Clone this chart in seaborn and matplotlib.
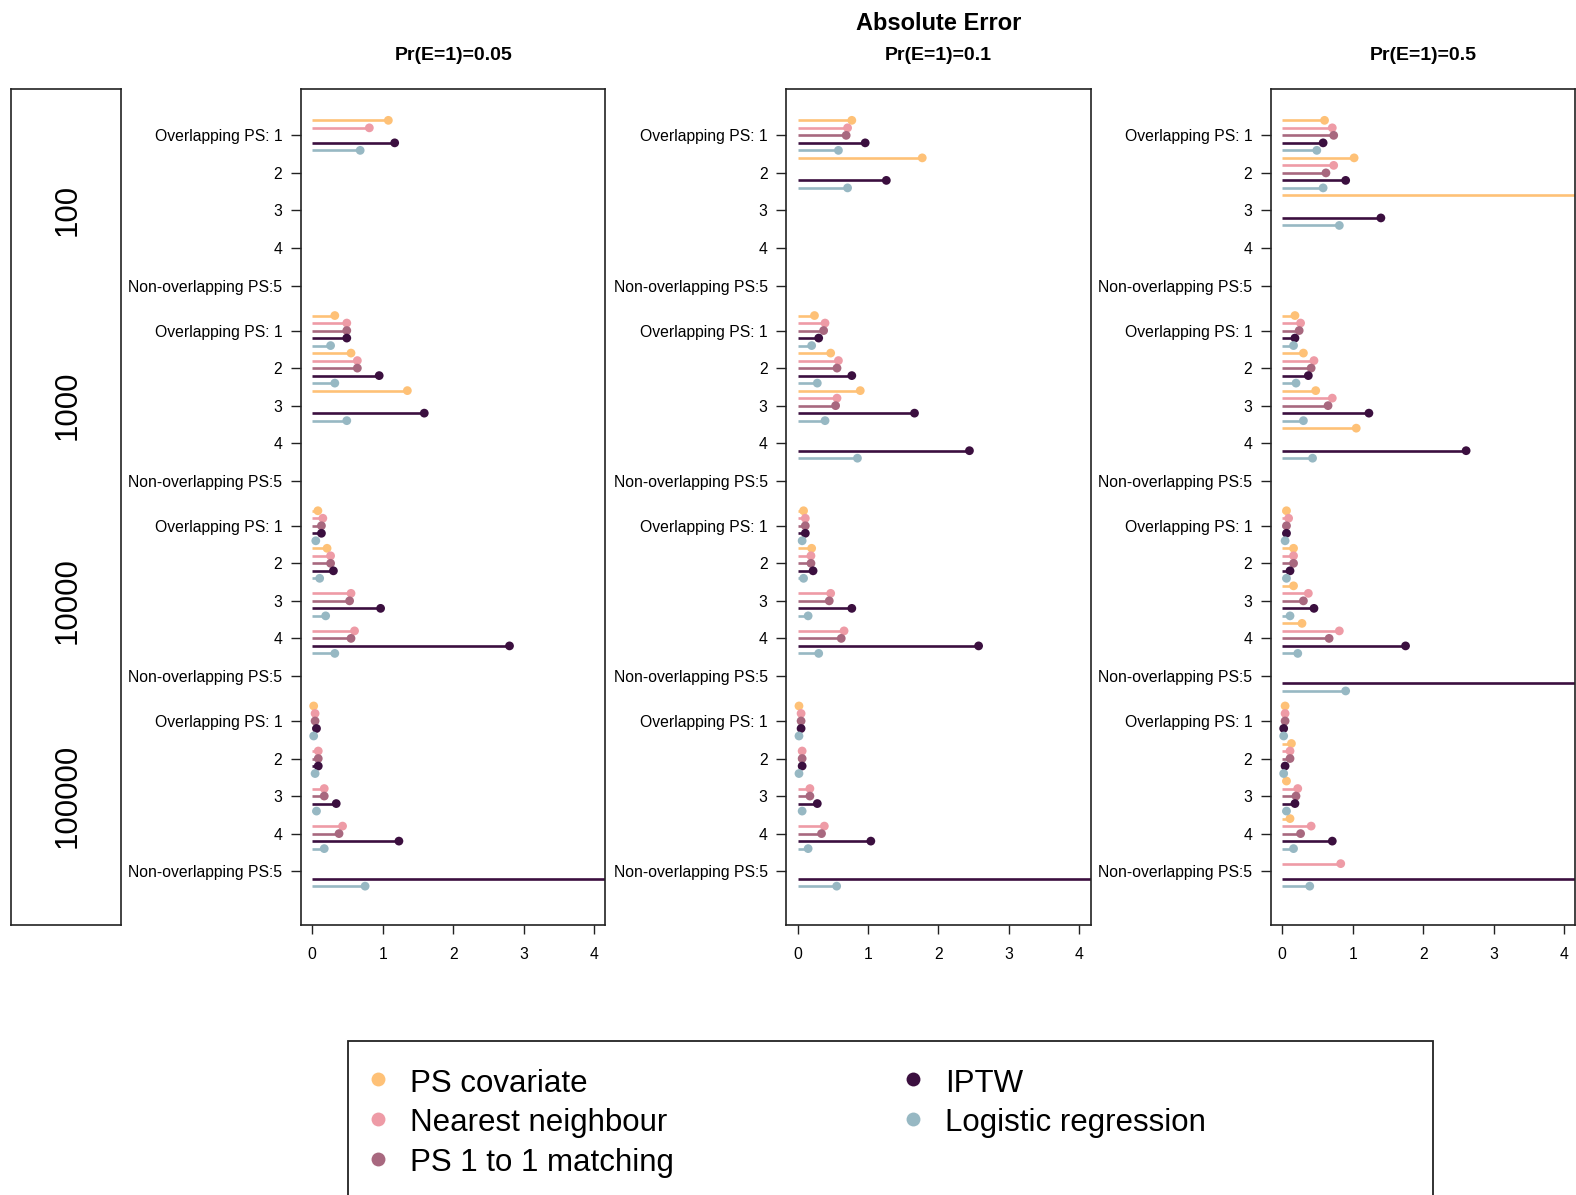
import numpy as np
import pandas as pd
import matplotlib
matplotlib.use("Agg")
import matplotlib.pyplot as plt
from matplotlib.patches import Rectangle
from matplotlib.lines import Line2D
import seaborn as sns

nan = np.nan

# ---------------- data ----------------
panels = ["Pr(E=1)=0.05", "Pr(E=1)=0.1", "Pr(E=1)=0.5"]
sample_sizes = ["100", "1000", "10000", "100000"]
overlap_labels = ["Overlapping PS: 1", "2", "3", "4", "Non-overlapping PS:5"]
methods = ["PS covariate", "Nearest neighbour", "PS 1 to 1 matching", "IPTW", "Logistic regression"]
colors = ["#FEC177", "#EE9BA6", "#A8687F", "#3B0F3F", "#97B8C3"]

# values ordered: n=100 (overlap 1..5), n=1000 (1..5), n=10000 (1..5), n=100000 (1..5)
# Pr(E=1)=0.05
ps_cov_005 = [1.08, nan, nan, nan, nan, 0.32, 0.55, 1.35, nan, nan, 0.08, 0.21, nan, nan, nan, 0.02, nan, nan, nan, nan]
nn_005     = [0.81, nan, nan, nan, nan, 0.49, 0.64, nan, nan, nan, 0.15, 0.26, 0.55, 0.60, nan, 0.04, 0.085, 0.17, 0.43, nan]
ps11_005   = [nan, nan, nan, nan, nan, 0.49, 0.64, nan, nan, nan, 0.13, 0.26, 0.53, 0.55, nan, 0.04, 0.085, 0.17, 0.38, nan]
iptw_005   = [1.17, nan, nan, nan, nan, 0.49, 0.95, 1.59, nan, nan, 0.13, 0.30, 0.97, 2.80, nan, 0.06, 0.085, 0.34, 1.23, 5.0]
lr_005     = [0.68, nan, nan, nan, nan, 0.26, 0.32, 0.49, nan, nan, 0.05, 0.105, 0.19, 0.32, nan, 0.02, 0.04, 0.06, 0.17, 0.75]
# Pr(E=1)=0.1
ps_cov_01 = [0.77, 1.77, nan, nan, nan, 0.24, 0.47, 0.89, nan, nan, 0.085, 0.20, nan, nan, nan, 0.02, nan, nan, nan, nan]
nn_01     = [0.71, nan, nan, nan, nan, 0.39, 0.58, 0.56, nan, nan, 0.11, 0.19, 0.47, 0.66, nan, 0.05, 0.065, 0.175, 0.38, nan]
ps11_01   = [0.69, nan, nan, nan, nan, 0.37, 0.56, 0.54, nan, nan, 0.11, 0.19, 0.45, 0.62, nan, 0.05, 0.065, 0.175, 0.34, nan]
iptw_01   = [0.96, 1.26, nan, nan, nan, 0.30, 0.77, 1.66, 2.44, nan, 0.11, 0.22, 0.77, 2.57, nan, 0.05, 0.065, 0.28, 1.04, 5.0]
lr_01     = [0.58, 0.71, nan, nan, nan, 0.20, 0.28, 0.39, 0.85, nan, 0.065, 0.085, 0.15, 0.30, nan, 0.02, 0.02, 0.065, 0.15, 0.555]
# Pr(E=1)=0.5
ps_cov_05 = [0.60, 1.02, 5.0, nan, nan, 0.18, 0.30, 0.475, 1.05, nan, 0.06, 0.16, 0.16, 0.28, nan, 0.04, 0.13, 0.06, 0.11, nan]
nn_05     = [0.71, 0.73, nan, nan, nan, 0.26, 0.45, 0.71, nan, nan, 0.09, 0.16, 0.37, 0.81, nan, 0.04, 0.11, 0.22, 0.41, 0.83]
ps11_05   = [0.73, 0.62, nan, nan, nan, 0.24, 0.41, 0.65, nan, nan, 0.06, 0.16, 0.30, 0.665, nan, 0.04, 0.11, 0.195, 0.26, nan]
iptw_05   = [0.58, 0.90, 1.40, nan, nan, 0.18, 0.37, 1.23, 2.61, nan, 0.06, 0.11, 0.45, 1.75, 5.0, 0.02, 0.04, 0.18, 0.71, 5.0]
lr_05     = [0.49, 0.58, 0.81, nan, nan, 0.16, 0.195, 0.30, 0.43, nan, 0.04, 0.06, 0.11, 0.22, 0.90, 0.02, 0.02, 0.06, 0.16, 0.39]

panel_series = [
    [ps_cov_005, nn_005, ps11_005, iptw_005, lr_005],
    [ps_cov_01, nn_01, ps11_01, iptw_01, lr_01],
    [ps_cov_05, nn_05, ps11_05, iptw_05, lr_05],
]

# ---------------- long table ----------------
recs = []
for p, series in zip(panels, panel_series):
    for m_i, (meth, vals) in enumerate(zip(methods, series)):
        for k, v in enumerate(vals):
            g, lev = divmod(k, 5)
            recs.append(dict(panel=p, method=meth, size=sample_sizes[g], level=lev,
                             row=g * 26 + lev * 5 + m_i, value=v))
df = pd.DataFrame(recs)
palette = dict(zip(methods, colors))

# ---------------- figure ----------------
sns.set_style("white")
plt.rcParams["font.family"] = ["Liberation Sans", "DejaVu Sans"]
plt.rcParams["text.color"] = "black"
plt.rcParams["xtick.labelcolor"] = "black"
plt.rcParams["ytick.labelcolor"] = "black"

W, H = 1576, 1195
fig = plt.figure(figsize=(W / 100, H / 100), dpi=100)

def fx(px):
    return px / W

def fy(py):
    return 1 - py / H

top_px, bot_px = 89.4, 924.6
ax_h = (bot_px - top_px) / H
ax_w = 304.3 / W
lefts = [301.0, 786.3, 1271.0]
n_rows = 104
ylim = (n_rows - 1 + 0.04 * (n_rows - 1), -0.04 * (n_rows - 1))

tick_rows = [g * 26 + lev * 5 + 2 for g in range(4) for lev in range(5)]
tick_labels = overlap_labels * 4

for p, left in zip(panels, lefts):
    ax = fig.add_axes([fx(left), fy(bot_px), ax_w, ax_h])
    d = df[(df.panel == p)].dropna(subset=["value"])
    ax.hlines(d["row"], 0, d["value"], colors=d["method"].map(palette), lw=1.9,
              capstyle="butt", zorder=2)
    sns.scatterplot(data=d, x="value", y="row", hue="method", palette=palette,
                    hue_order=methods, s=40, linewidth=0, legend=False, ax=ax, zorder=3)
    ax.set_xlim(-0.16, 4.16)
    ax.set_ylim(*ylim)
    ax.set_xticks([0, 1, 2, 3, 4])
    ax.set_yticks(tick_rows)
    ax.set_yticklabels(tick_labels)
    ax.set_xlabel("")
    ax.set_ylabel("")
    for s in ax.spines.values():
        s.set_visible(True)
        s.set_color("#222222")
        s.set_linewidth(1.2)
    ax.tick_params(axis="y", direction="out", length=7, width=1, color="#222222",
                   pad=6.5, labelsize=11.3, left=True)
    ax.tick_params(axis="x", direction="out", length=6.7, width=1, color="#222222",
                   pad=9.5, labelsize=11.3, bottom=True)
    fig.text(fx(left + 304.3 / 2), fy(55.0), p, ha="center", va="center",
             fontsize=14, fontweight="bold")

fig.text(fx(938.5), fy(23.5), "Absolute Error", ha="center", va="center",
         fontsize=17, fontweight="bold")

# sample-size strip
axs = fig.add_axes([fx(10.7), fy(bot_px), fx(110.0), ax_h])
axs.set_xlim(0, 1)
axs.set_ylim(*ylim)
axs.set_xticks([])
axs.set_yticks([])
for s in axs.spines.values():
    s.set_visible(True)
    s.set_color("#222222")
    s.set_linewidth(1.2)
for g, lab in enumerate(sample_sizes):
    axs.text(0.52, g * 26 + 12, lab, rotation=90, ha="center", va="center", fontsize=22.5)

# legend box
fig.add_artist(Rectangle((fx(348), fy(1300)), fx(1433 - 348), (1300 - 1041) / H,
                         transform=fig.transFigure, fill=False, edgecolor="#222222", lw=1.3))
leg_x = [(378, 410), (378, 410), (378, 410), (912.6, 945), (912.6, 945)]
leg_row = [0, 1, 2, 0, 1]
for meth, col, (mx, tx), r in zip(methods, colors, leg_x, leg_row):
    my = 1079.3 + r * 39.6
    by = 1091.7 + r * 39.6
    fig.add_artist(Line2D([fx(mx)], [fy(my)], marker="o", markersize=10, color=col,
                          markeredgewidth=0, linestyle="none", transform=fig.transFigure))
    fig.text(fx(tx), fy(by), meth, ha="left", va="baseline", fontsize=22.5)

fig.savefig("out.png", dpi=100)
